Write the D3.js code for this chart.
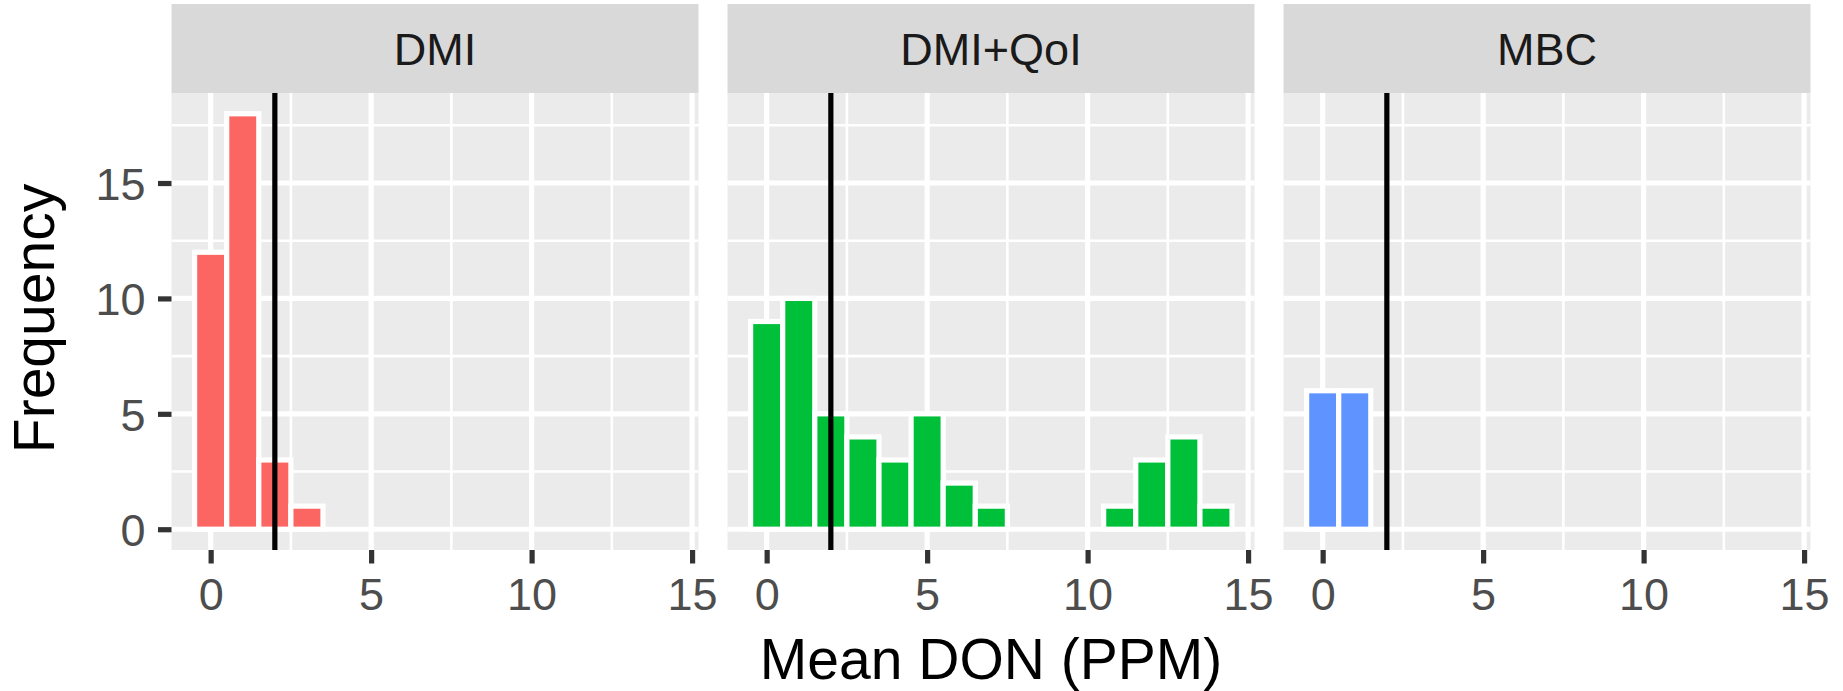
<!DOCTYPE html>
<html lang="en" dir="ltr">

<head>
  <script src='https://cdn.jsdelivr.net/npm/d3@7/dist/d3.min.js'></script>
  <meta charset='utf-8'>
  <title></title>
  <style>
    body {
      margin: 0;
      background: #fff;
    }

    #chart {
      width: 1843px;
      height: 691px;
    }

    text {
      font-family: 'Liberation Sans', Arial, sans-serif;
    }

    /* Settings for axes. */

    .axis path {
      display: none;
    }

    .axis line {
      stroke: #333333;
      stroke-width: 5.2px;
    }

    .axis text {
      font-size: 45px;
      fill: #4D4D4D;
    }
  </style>
</head>

<body>
  <div id='chart'></div>
  <script>
    // Histogram counts per panel, one value per bin centred on 0..14.

    var binCenters = [0, 1, 2, 3, 4, 5, 6, 7, 8, 9, 10, 11, 12, 13, 14];
    var panelNames = ['DMI', 'DMI+QoI', 'MBC'];
    var dmiCounts = [12, 18, 3, 1, 0, 0, 0, 0, 0, 0, 0, 0, 0, 0, 0];
    var dmiQoiCounts = [9, 10, 5, 4, 3, 5, 2, 1, 0, 0, 0, 1, 3, 4, 1];
    var mbcCounts = [6, 6, 0, 0, 0, 0, 0, 0, 0, 0, 0, 0, 0, 0, 0];
    var panelFills = ['#FC6662', '#00C03A', '#5F93FF'];

    var xTicks = [0, 5, 10, 15];
    var xMinor = [2.5, 7.5, 12.5];
    var yTicks = [0, 5, 10, 15];
    var yMinor = [2.5, 7.5, 12.5, 17.5];
    var meanLine = 2;

    var allCounts = [dmiCounts, dmiQoiCounts, mbcCounts];

    var width = 1843,
      height = 691;

    var svg = d3.select('#chart')
      .append('svg')
      .attr('width', width)
      .attr('height', height)
      .attr('viewBox', '0 0 ' + width + ' ' + height);

    // Panel layout.

    var left = 171.5,
      stripTop = 4,
      stripHeight = 89,
      panelWidth = 527,
      panelGap = 29,
      panelHeight = 457;

    var panelTop = stripTop + stripHeight;

    // Create x and y scale (shared by all panels).

    var xScale = d3.scaleLinear()
      .domain([-1.22, 15.2])
      .range([0, panelWidth]);

    var yScale = d3.scaleLinear()
      .domain([-0.9, 18.9])
      .range([panelHeight, 0]);

    var panels = svg.selectAll('.panel')
      .data(panelNames)
      .enter()
      .append('g')
      .attr('class', 'panel')
      .attr('transform', function(d, i) {
        return 'translate(' + (left + i * (panelWidth + panelGap)) + ',' + panelTop + ')';
      });

    // Background and grid.

    panels.append('rect')
      .attr('width', panelWidth)
      .attr('height', panelHeight)
      .attr('fill', '#EBEBEB');

    panels.selectAll('.ygrid-minor')
      .data(yMinor)
      .enter()
      .append('line')
      .attr('x1', 0)
      .attr('x2', panelWidth)
      .attr('y1', function(d) { return yScale(d); })
      .attr('y2', function(d) { return yScale(d); })
      .attr('stroke', '#fff')
      .attr('stroke-width', 2.6);

    panels.selectAll('.xgrid-minor')
      .data(xMinor)
      .enter()
      .append('line')
      .attr('y1', 0)
      .attr('y2', panelHeight)
      .attr('x1', function(d) { return xScale(d); })
      .attr('x2', function(d) { return xScale(d); })
      .attr('stroke', '#fff')
      .attr('stroke-width', 2.6);

    panels.selectAll('.ygrid')
      .data(yTicks)
      .enter()
      .append('line')
      .attr('x1', 0)
      .attr('x2', panelWidth)
      .attr('y1', function(d) { return yScale(d); })
      .attr('y2', function(d) { return yScale(d); })
      .attr('stroke', '#fff')
      .attr('stroke-width', 5.2);

    panels.selectAll('.xgrid')
      .data(xTicks)
      .enter()
      .append('line')
      .attr('y1', 0)
      .attr('y2', panelHeight)
      .attr('x1', function(d) { return xScale(d); })
      .attr('x2', function(d) { return xScale(d); })
      .attr('stroke', '#fff')
      .attr('stroke-width', 5.2);

    // Histogram bars, binwidth 1.

    panels.each(function(name, i) {
      d3.select(this).append('g')
        .selectAll('rect')
        .data(binCenters.map(function(c, j) {
          return { x: c, count: allCounts[i][j] };
        }))
        .enter()
        .append('rect')
        .attr('x', function(d) { return xScale(d.x - 0.5); })
        .attr('width', function(d) { return xScale(d.x + 0.5) - xScale(d.x - 0.5); })
        .attr('y', function(d) { return yScale(d.count); })
        .attr('height', function(d) { return yScale(0) - yScale(d.count); })
        .attr('fill', panelFills[i])
        .attr('stroke', '#fff')
        .attr('stroke-width', 5.2);
    });

    // Vertical reference line.

    panels.append('line')
      .attr('x1', xScale(meanLine))
      .attr('x2', xScale(meanLine))
      .attr('y1', 0)
      .attr('y2', panelHeight)
      .attr('stroke', '#000')
      .attr('stroke-width', 5.2);

    // Strips.

    panels.append('rect')
      .attr('y', -stripHeight)
      .attr('width', panelWidth)
      .attr('height', stripHeight)
      .attr('fill', '#D9D9D9');

    panels.append('text')
      .attr('x', panelWidth / 2)
      .attr('y', -stripHeight / 2 + 16)
      .attr('text-anchor', 'middle')
      .style('font-size', '45px')
      .style('fill', '#1A1A1A')
      .text(function(d) { return d; });

    // Create axes.

    panels.append('g')
      .attr('class', 'axis')
      .attr('transform', 'translate(0,' + panelHeight + ')')
      .call(d3.axisBottom(xScale)
        .tickValues(xTicks)
        .tickSize(13.5)
        .tickPadding(14.5));

    svg.append('g')
      .attr('class', 'axis')
      .attr('transform', 'translate(' + left + ',' + panelTop + ')')
      .call(d3.axisLeft(yScale)
        .tickValues(yTicks)
        .tickSize(13.5)
        .tickPadding(12.5))
      .selectAll('text')
      .attr('dy', '0.36em');

    // Axis titles.

    svg.append('text')
      .attr('x', left + (3 * panelWidth + 2 * panelGap) / 2)
      .attr('y', 679)
      .attr('text-anchor', 'middle')
      .style('font-size', '57px')
      .style('fill', '#000')
      .text('Mean DON (PPM)');

    svg.append('text')
      .attr('transform', 'translate(54,' + (panelTop + panelHeight / 2 - 3) + ') rotate(-90)')
      .attr('text-anchor', 'middle')
      .style('font-size', '57px')
      .style('fill', '#000')
      .text('Frequency');
  </script>
</body>

</html>
